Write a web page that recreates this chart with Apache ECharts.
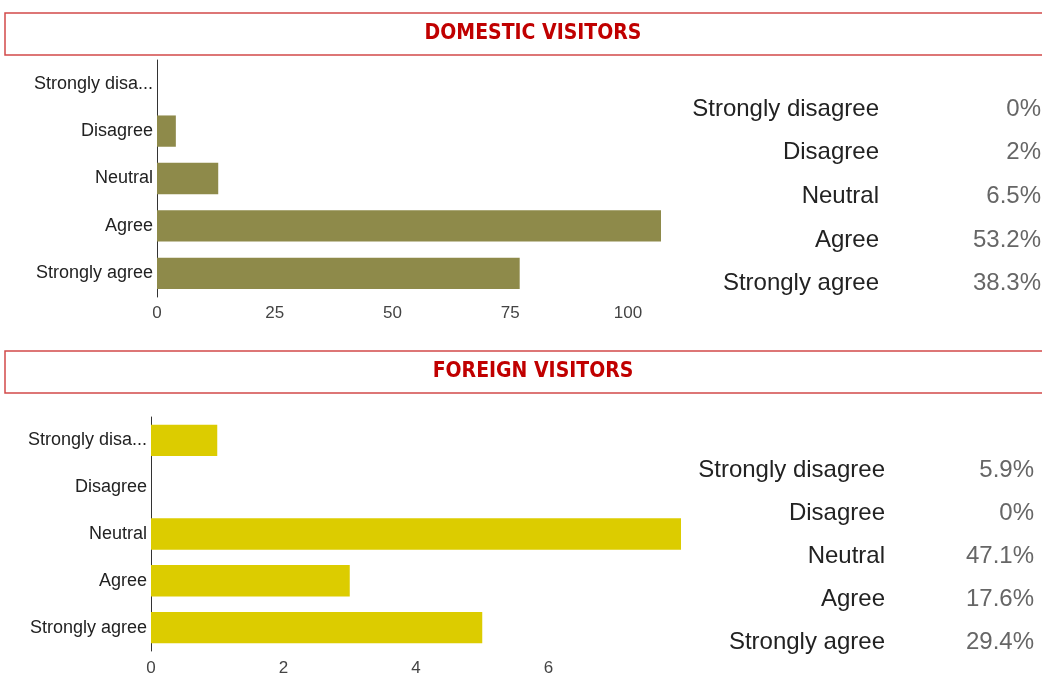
<!DOCTYPE html>
<html>
<head>
<meta charset="utf-8">
<script src="https://cdn.jsdelivr.net/npm/echarts@6/dist/echarts.min.js"></script>
<style>
  html, body { margin: 0; padding: 0; background: #fff; }
  #chart { width: 1042px; height: 677px; }
</style>
</head>
<body>
<div id="chart"></div>
<script>
// answer categories, top to bottom
const categories = ['Strongly disagree', 'Disagree', 'Neutral', 'Agree', 'Strongly agree'];

// respondent counts
const domesticCounts = [0, 4, 13, 107, 77];
const foreignCounts = [1, 0, 8, 3, 5];

// shares shown in the side tables
const domesticShares = ['0%', '2%', '6.5%', '53.2%', '38.3%'];
const foreignShares = ['5.9%', '0%', '47.1%', '17.6%', '29.4%'];

const FONT = '"Liberation Sans", Arial, sans-serif';

function shortLabel(v) {
  return v.length > 14 ? v.slice(0, 13) + '...' : v;
}

function catAxis(gridIndex) {
  return {
    type: 'category',
    gridIndex: gridIndex,
    data: categories,
    inverse: true,
    axisLine: { show: true, lineStyle: { color: '#333', width: 1 } },
    axisTick: { show: false },
    axisLabel: { color: '#222', fontSize: 18, fontFamily: FONT, margin: 4, formatter: shortLabel }
  };
}

function valAxis(gridIndex, max, interval, margin) {
  return {
    type: 'value',
    gridIndex: gridIndex,
    min: 0,
    max: max,
    interval: interval,
    axisLine: { show: false },
    axisTick: { show: false },
    splitLine: { show: false },
    axisLabel: { color: '#444', fontSize: 17, fontFamily: FONT, margin: margin, showMaxLabel: false }
  };
}

// title box + right-hand table, laid out from the arrays
function titleBox(y, text) {
  return [
    { type: 'rect', shape: { x: 5, y: y, width: 1050, height: 42 },
      style: { fill: '#fff', stroke: '#d24a4a', lineWidth: 1.5 } },
    { type: 'text', x: 533, y: y + 21,
      style: { text: text, fill: '#c00000', font: 'bold 21px "Liberation Sans Narrow", "DejaVu Sans Condensed", sans-serif',
        align: 'center', verticalAlign: 'middle' } }
  ];
}

function table(top, step, labelRight, valueRight, shares) {
  const out = [];
  categories.forEach((c, i) => {
    out.push({ type: 'text', x: labelRight, y: top + i * step,
      style: { text: c, fill: '#222', font: '24px ' + FONT, align: 'right', verticalAlign: 'middle' } });
    out.push({ type: 'text', x: valueRight, y: top + i * step,
      style: { text: shares[i], fill: '#666', font: '24px ' + FONT, align: 'right', verticalAlign: 'middle' } });
  });
  return out;
}

const chart = echarts.init(document.getElementById('chart'));

chart.setOption({
  backgroundColor: '#fff',
  animation: false,
  grid: [
    { left: 157, top: 60, width: 504, height: 237 },
    { left: 151, top: 417, width: 530, height: 238 }
  ],
  xAxis: [valAxis(0, 107, 25, 8), valAxis(1, 8, 2, 9)],
  yAxis: [catAxis(0), catAxis(1)],
  series: [
    { type: 'bar', xAxisIndex: 0, yAxisIndex: 0, data: domesticCounts,
      barCategoryGap: '34%', itemStyle: { color: '#8e8a4a' } },
    { type: 'bar', xAxisIndex: 1, yAxisIndex: 1, data: foreignCounts,
      barCategoryGap: '33%', itemStyle: { color: '#dccc00' } }
  ],
  graphic: [
    ...titleBox(13, 'DOMESTIC VISITORS'),
    ...titleBox(351, 'FOREIGN VISITORS'),
    ...table(109, 43.7, 879, 1041, domesticShares),
    ...table(470, 43, 885, 1034, foreignShares)
  ]
});
</script>
</body>
</html>
